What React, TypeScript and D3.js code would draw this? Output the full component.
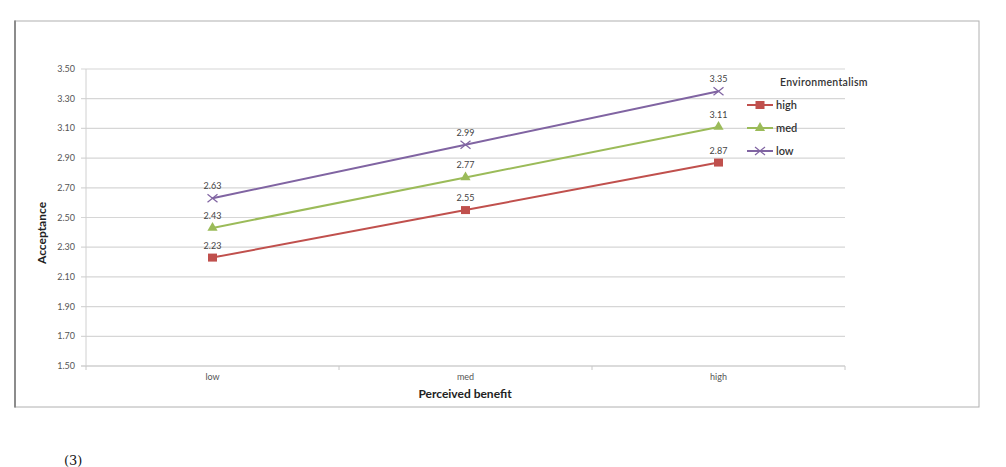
import * as d3 from "d3";

// chart values
const benefitLevels = ["low", "med", "high"];
const seriesNames = ["high", "med", "low"];
const highValues = [2.23, 2.55, 2.87];
const medValues = [2.43, 2.77, 3.11];
const lowValues = [2.63, 2.99, 3.35];
const yTicks = [1.5, 1.7, 1.9, 2.1, 2.3, 2.5, 2.7, 2.9, 3.1, 3.3, 3.5];

const W = 1006;
const H = 467;
const plot = { left: 86, right: 845, top: 69, bottom: 366 };
const font = "Lato, 'Open Sans', sans-serif";

const colors: Record<string, string> = {
  high: "#C0504D",
  med: "#9BBB59",
  low: "#8064A2",
};

const seriesData: Record<string, number[]> = {
  high: highValues,
  med: medValues,
  low: lowValues,
};

function Marker({ kind, x, y }: { kind: string; x: number; y: number }) {
  const c = colors[kind];
  if (kind === "high") {
    return <rect x={x - 4.5} y={y - 4} width={9} height={8} fill={c} />;
  }
  if (kind === "med") {
    const s = d3.symbol(d3.symbolTriangle, 45)();
    return <path d={s || ""} transform={`translate(${x},${y})`} fill={c} />;
  }
  return (
    <g stroke={c} strokeWidth={1.2}>
      <line x1={x - 5} y1={y - 4} x2={x + 5} y2={y + 4} />
      <line x1={x - 5} y1={y + 4} x2={x + 5} y2={y - 4} />
    </g>
  );
}

export default function App() {
  const x = d3
    .scaleBand()
    .domain(benefitLevels)
    .range([plot.left, plot.right]);
  const y = d3.scaleLinear().domain([1.5, 3.5]).range([plot.bottom, plot.top]);

  const line = d3
    .line<number>()
    .x((d, i) => (x(benefitLevels[i]) as number) + x.bandwidth() / 2)
    .y((d) => y(d));

  const legendY = d3.scalePoint().domain(seriesNames).range([105, 151]);

  return (
    <svg
      width={W}
      height={H}
      style={{ position: "absolute", left: 0, top: 0, background: "#fff" }}
      fontFamily={font}
    >
      {/* outer frame */}
      <rect x={15} y={21} width={964} height={386} fill="none" stroke="#B0B0B0" strokeWidth={1} />
      <line x1={15} y1={20.5} x2={15} y2={407.5} stroke="#8C8C8C" strokeWidth={2} />

      {/* gridlines and y axis labels */}
      {yTicks.map((t) => (
        <g key={t}>
          <line
            x1={plot.left - 5}
            x2={plot.right}
            y1={y(t)}
            y2={y(t)}
            stroke={t === 1.5 ? "#B8B8B8" : "#D6D6D6"}
            strokeWidth={1.2}
          />
          <text
            x={75}
            y={y(t) + 3}
            textAnchor="end"
            fontSize={9}
            fill="#555"
          >
            {t.toFixed(2)}
          </text>
        </g>
      ))}
      <line x1={plot.left} x2={plot.left} y1={plot.top} y2={plot.bottom} stroke="#D0D0D0" />
      {benefitLevels.map((b) => (
        <line
          key={"t" + b}
          x1={x(b) as number}
          x2={x(b) as number}
          y1={plot.bottom}
          y2={plot.bottom + 4}
          stroke="#C8C8C8"
        />
      ))}
      <line x1={plot.right} x2={plot.right} y1={plot.bottom} y2={plot.bottom + 4} stroke="#C8C8C8" />

      {/* x labels */}
      {benefitLevels.map((b) => (
        <text
          key={b}
          x={(x(b) as number) + x.bandwidth() / 2}
          y={380}
          textAnchor="middle"
          fontSize={9}
          fill="#555"
        >
          {b}
        </text>
      ))}
      <text x={465} y={398} textAnchor="middle" fontSize={12} fontWeight="bold" fill="#222">
        Perceived benefit
      </text>
      <text
        transform="translate(46,233) rotate(-90)"
        textAnchor="middle"
        fontSize={12}
        fontWeight="bold"
        fill="#222"
      >
        Acceptance
      </text>

      {/* series */}
      {seriesNames.map((s) => (
        <g key={s}>
          <path d={line(seriesData[s]) || ""} fill="none" stroke={colors[s]} strokeWidth={2} />
          {seriesData[s].map((v, i) => {
            const cx = (x(benefitLevels[i]) as number) + x.bandwidth() / 2;
            return (
              <g key={i}>
                <Marker kind={s} x={cx} y={y(v)} />
                <text x={cx} y={y(v) - 9} textAnchor="middle" fontSize={9} fill="#444">
                  {v.toFixed(2)}
                </text>
              </g>
            );
          })}
        </g>
      ))}

      {/* legend */}
      <text x={780} y={86} fontSize={10.5} fontWeight={600} fill="#333" letterSpacing={0.3}>
        Environmentalism
      </text>
      {seriesNames.map((s) => (
        <g key={"lg" + s}>
          <line x1={747} x2={773} y1={legendY(s)} y2={legendY(s)} stroke={colors[s]} strokeWidth={2} />
          <Marker kind={s} x={760} y={legendY(s) as number} />
          <text x={776} y={(legendY(s) as number) + 4} fontSize={11} fontWeight={600} fill="#333">
            {s}
          </text>
        </g>
      ))}

      {/* caption line below the figure */}
      <text x={64} y={465} fontSize={13} fontFamily="'DejaVu Serif', serif" fill="#111">
        (3)
      </text>
    </svg>
  );
}
